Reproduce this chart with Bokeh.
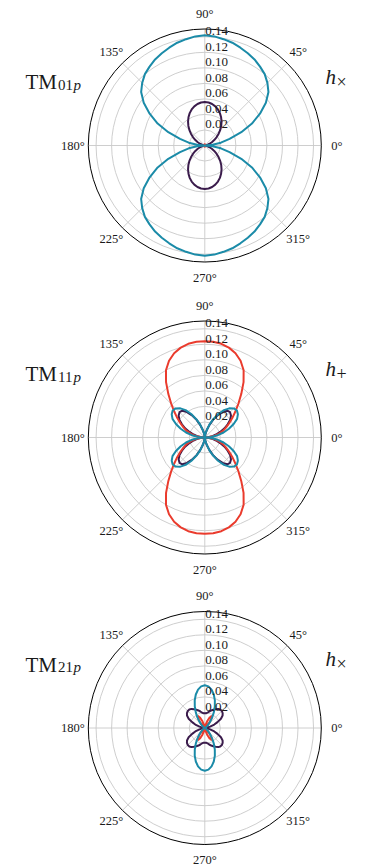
import numpy as np
from bokeh.plotting import figure
from bokeh.models import Range1d
from bokeh.core.properties import value
from bokeh.embed import file_html
from bokeh.resources import INLINE

# ---------------- data ----------------
# radial pattern values for one quadrant (theta 0..90 deg); the patterns are
# mirror-symmetric about both axes
theta_deg = [0, 5, 10, 15, 20, 25, 30, 35, 40, 45, 50, 55, 60, 65, 70, 75, 80, 85, 90]

tm01_purple = [0.0, 0.0004, 0.0017, 0.0038, 0.0066, 0.0100, 0.0140, 0.0184, 0.0231, 0.0280,
               0.0329, 0.0376, 0.0420, 0.0460, 0.0494, 0.0522, 0.0543, 0.0556, 0.0560]
tm01_red = [0.0, 0.0, 0.0001, 0.0001, 0.0002, 0.0003, 0.0004, 0.0005, 0.0006, 0.0008,
            0.0009, 0.0010, 0.0011, 0.0012, 0.0013, 0.0014, 0.0015, 0.0015, 0.0015]
tm01_teal = [0.0, 0.010, 0.021, 0.033, 0.050, 0.067, 0.082, 0.096, 0.107, 0.114,
             0.120, 0.124, 0.128, 0.131, 0.134, 0.137, 0.139, 0.141, 0.142]

tm11_purple = [0.0, 0.004, 0.010, 0.015, 0.021, 0.028, 0.034, 0.040, 0.044, 0.046,
               0.045, 0.040, 0.033, 0.025, 0.017, 0.010, 0.005, 0.001, 0.0]
tm11_red = [0.0, 0.006, 0.013, 0.019, 0.025, 0.030, 0.036, 0.043, 0.051, 0.061,
            0.073, 0.087, 0.100, 0.109, 0.1155, 0.1198, 0.1225, 0.1237, 0.124]
tm11_teal = [0.0, 0.008, 0.017, 0.025, 0.033, 0.041, 0.048, 0.052, 0.054, 0.053,
             0.049, 0.043, 0.035, 0.026, 0.018, 0.010, 0.005, 0.001, 0.0]

tm21_purple = [0.0, 0.001, 0.003, 0.007, 0.013, 0.018, 0.024, 0.028, 0.030, 0.031,
               0.031, 0.030, 0.028, 0.026, 0.024, 0.022, 0.020, 0.019, 0.019]
tm21_red = [0.0, 0.0, 0.0, 0.0, 0.0, 0.0, 0.0, 0.001, 0.002, 0.004,
            0.009, 0.015, 0.018, 0.015, 0.010, 0.004, 0.001, 0.0, 0.0]
tm21_teal = [0.0, 0.0, 0.0, 0.0, 0.0001, 0.0003, 0.0009, 0.0019, 0.0039, 0.0069,
             0.0111, 0.0166, 0.0232, 0.0305, 0.0379, 0.0447, 0.0502, 0.0538, 0.0550]

ring_values = [0.02, 0.04, 0.06, 0.08, 0.10, 0.12, 0.14]
ring_labels = ["0.02", "0.04", "0.06", "0.08", "0.10", "0.12", "0.14"]
r_max = 0.15
angle_ticks = [0, 45, 90, 135, 180, 225, 270, 315]
angle_labels = ["0°", "45°", "90°", "135°", "180°", "225°", "270°", "315°"]

mode_names = ["01p", "11p", "21p"]
polarizations = ["×", "+", "×"]

panels = [
    (tm01_purple, tm01_red, tm01_teal),
    (tm11_purple, tm11_red, tm11_teal),
    (tm21_purple, tm21_red, tm21_teal),
]

# ---------------- styling / layout ----------------
W, H = 365, 866
PX = 116.5 / r_max          # pixels per data unit
cx_px = 204.3
cy_px = [145.0, 437.0, 727.5]
C_PURPLE = "#3b1c4c"
C_RED = "#ea3b2d"
C_TEAL = "#1b8ba8"
GRID = "#c8c8c8"
SERIF = value("Liberation Serif")
TXT = "#1a1a1a"


def d(px):
    return px / PX


p = figure(width=W, height=H, output_backend="svg", toolbar_location=None,
           x_range=Range1d(-d(cx_px), d(W - cx_px)),
           y_range=Range1d(-d(H - cy_px[0]), d(cy_px[0])),
           x_axis_type=None, y_axis_type=None, min_border=0)
p.grid.visible = False
p.outline_line_color = None
p.background_fill_color = "white"
p.border_fill_color = "white"


def full_circle(vals):
    th = np.array(theta_deg, dtype=float)
    v = np.array(vals, dtype=float)
    ang = np.concatenate([th, 180 - th[::-1], 180 + th, 360 - th[::-1]])
    rr = np.concatenate([v, v[::-1], v, v[::-1]])
    return np.deg2rad(ang), rr


for k, (purple, red, teal) in enumerate(panels):
    cy = -d(cy_px[k] - cy_px[0])

    # grid rings
    p.circle(x=[0.0] * len(ring_values), y=[cy] * len(ring_values), radius=ring_values,
             fill_color=None, line_color=GRID, line_width=0.9)
    # spokes
    a = np.deg2rad(angle_ticks)
    p.segment(x0=[0.0] * len(a), y0=[cy] * len(a),
              x1=list(r_max * np.cos(a)), y1=list(cy + r_max * np.sin(a)),
              line_color=GRID, line_width=0.9)
    # outer frame
    p.circle(x=[0.0], y=[cy], radius=[r_max], fill_color=None,
             line_color="black", line_width=1.0)

    # curves
    for vals, col in ((purple, C_PURPLE), (red, C_RED), (teal, C_TEAL)):
        ang, rr = full_circle(vals)
        p.line(x=list(rr * np.cos(ang)), y=list(cy + rr * np.sin(ang)),
               line_color=col, line_width=2.0)

    # radial labels
    p.text(x=[d(0.5)] * len(ring_values), y=[cy + r + d(5.5) for r in ring_values],
           text=ring_labels, text_font=SERIF, text_font_size="13px",
           text_align="left", text_baseline="middle", text_color=TXT)

    # angle labels
    rl = d(132)
    p.text(x=list(rl * np.cos(a)), y=list(cy + rl * np.sin(a)),
           text=angle_labels, text_font=SERIF, text_font_size="12.5px",
           text_align="center", text_baseline="middle", text_color=TXT)

    # mode title  TM_{xxp}
    p.text(x=[-d(cx_px - 25)], y=[cy + d(63.3)], text=["TM"], text_font=SERIF,
           text_font_size="21px", text_align="left", text_baseline="alphabetic",
           text_color=TXT)
    p.text(x=[-d(cx_px - 57.5)], y=[cy + d(61.0)], text=[mode_names[k][:2]],
           text_font=SERIF, text_font_size="15px", text_align="left",
           text_baseline="alphabetic", text_color=TXT)
    p.text(x=[-d(cx_px - 73.0)], y=[cy + d(61.0)], text=[mode_names[k][2:]],
           text_font=SERIF, text_font_size="15px", text_font_style="italic",
           text_align="left", text_baseline="alphabetic", text_color=TXT)

    # polarization label  h_{x/+}
    p.text(x=[d(325 - cx_px)], y=[cy + d(69.0)], text=["h"], text_font=SERIF,
           text_font_size="21px", text_font_style="italic", text_align="left",
           text_baseline="alphabetic", text_color=TXT)
    p.text(x=[d(336 - cx_px)], y=[cy + d(64.0)], text=[polarizations[k]],
           text_font=SERIF, text_font_size="18px", text_align="left",
           text_baseline="alphabetic", text_color=TXT)

open("out.html", "w").write(file_html(p, INLINE))
